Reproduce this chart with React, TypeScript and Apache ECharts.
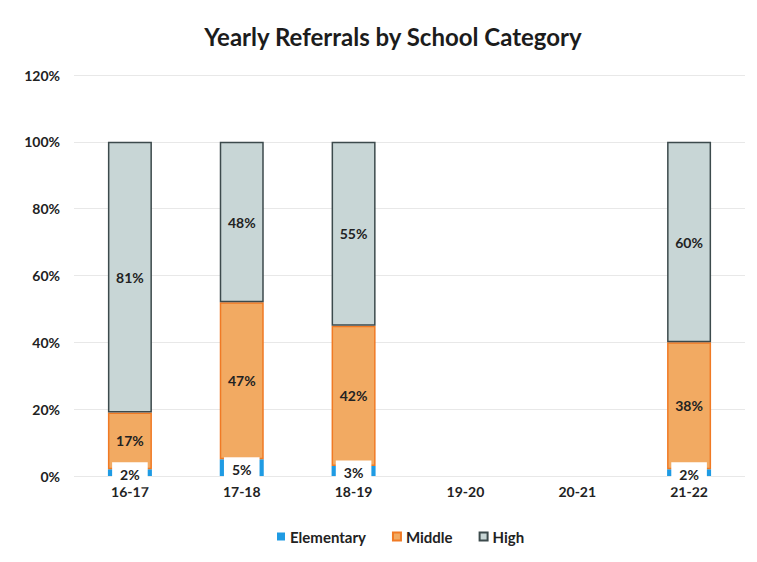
import React, { useEffect, useRef } from "react";
import * as echarts from "echarts";

const categories = ["16-17", "17-18", "18-19", "19-20", "20-21", "21-22"];
const elementary = [2, 5, 3, null, null, 2];
const middle = [17, 47, 42, null, null, 38];
const high = [81, 48, 55, null, null, 60];
const yTicks = [0, 20, 40, 60, 80, 100, 120];

const FONT = "Lato, 'Open Sans', sans-serif";

export default function App() {
  const ref = useRef<HTMLDivElement>(null);

  useEffect(() => {
    if (!ref.current) return;
    const chart = echarts.init(ref.current, null, { renderer: "svg" });

    const labelBase = {
      show: true,
      position: "inside",
      formatter: "{c}%",
      fontFamily: FONT,
      fontWeight: "bold",
      fontSize: 14,
      color: "#222",
    };

    chart.setOption({
      animation: false,
      backgroundColor: "#ffffff",
      title: {
        text: "Yearly Referrals by School Category",
        left: 388,
        textAlign: "center",
        top: 19,
        textStyle: {
          fontFamily: FONT,
          fontWeight: "bold",
          fontSize: 24,
          color: "#1c1c1c",
        },
      },
      legend: {
        top: 524,
        left: 272,
        icon: "rect",
        itemWidth: 8,
        itemHeight: 8,
        itemGap: 26,
        textStyle: {
          fontFamily: FONT,
          fontWeight: "bold",
          fontSize: 15,
          color: "#222",
        },
        data: ["Elementary", "Middle", "High"],
      },
      grid: { left: 74, right: 12, top: 75, bottom: 86 },
      xAxis: {
        type: "category",
        data: categories,
        axisLine: { show: false },
        axisTick: { show: false },
        axisLabel: {
          fontFamily: FONT,
          fontWeight: "bold",
          fontSize: 14,
          color: "#222",
          margin: 8,
        },
      },
      yAxis: {
        type: "value",
        min: yTicks[0],
        max: yTicks[yTicks.length - 1],
        interval: 20,
        axisLine: { show: false },
        axisTick: { show: false },
        splitLine: { lineStyle: { color: "#e8e8e8", width: 1 } },
        axisLabel: {
          formatter: "{value}%",
          fontFamily: FONT,
          fontWeight: "bold",
          fontSize: 14,
          color: "#222",
          margin: 14,
        },
      },
      series: [
        {
          name: "Elementary",
          type: "bar",
          stack: "total",
          barWidth: 44,
          data: elementary,
          itemStyle: { color: "#1f9be3", borderColor: "#1f9be3", borderWidth: 0 },
          label: {
            ...labelBase,
            backgroundColor: "#ffffff",
            padding: [6, 8, 5, 8],
            offset: [0, 2],
          },
        },
        {
          name: "Middle",
          type: "bar",
          stack: "total",
          barWidth: 44,
          data: middle,
          itemStyle: { color: "#f2aa62", borderColor: "#f07a24", borderWidth: 1.5 },
          label: labelBase,
        },
        {
          name: "High",
          type: "bar",
          stack: "total",
          barWidth: 44,
          data: high,
          itemStyle: { color: "#c8d6d6", borderColor: "#3c4a4c", borderWidth: 1.5 },
          label: labelBase,
        },
      ],
      graphic: [
        {
          type: "rect",
          z: 100,
          shape: { x: 7, y: 4, width: 1, height: 496 },
          style: { fill: "#c4c4c4" },
        },
        {
          type: "rect",
          z: 100,
          shape: { x: 8, y: 5, width: 749, height: 1 },
          style: { fill: "#dddddd" },
        },
      ],
    });

    return () => chart.dispose();
  }, []);

  return <div ref={ref} style={{ width: 757, height: 562, margin: -8 }} />;
}
